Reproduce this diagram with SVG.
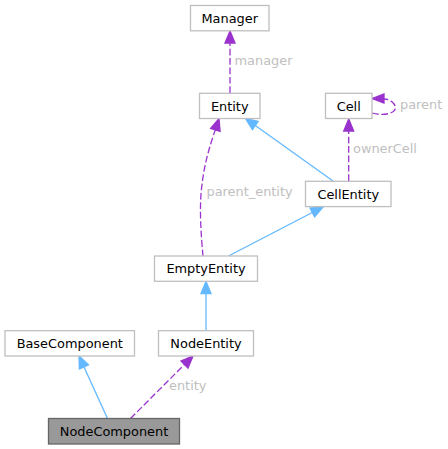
<svg xmlns="http://www.w3.org/2000/svg" width="448" height="449" viewBox="0 0 448 449">
<style>
.node rect{fill:#ffffff;stroke:#bfbfbf;stroke-width:1.3}
.node text{font-family:"DejaVu Sans",sans-serif;font-size:12.9px;fill:#000000;text-anchor:middle}
#n_nodecomponent rect{fill:#999999;stroke:#666666}
.inh{fill:none;stroke:#63b8ff;stroke-width:1.3}
.inh-h{fill:#63b8ff;stroke:#63b8ff;stroke-width:1.3}
.use{fill:none;stroke:#9a32cd;stroke-width:1.3;stroke-dasharray:6.7,2.7}
.use-h{fill:#9a32cd;stroke:#9a32cd;stroke-width:1.3}
.lbl{font-family:"DejaVu Sans",sans-serif;font-size:12.9px;fill:#c0c0c0}
</style>
<rect width="448" height="449" fill="#ffffff"/>
<g id="connectors">
  <!-- Entity -> Manager -->
  <path class="use" d="M230,93 L230,43"/>
  <polygon class="use-h" points="230,31 225,43 235,43"/>
  <text class="lbl" x="234.5" y="65">manager</text>
  <!-- CellEntity -> Cell -->
  <path class="use" d="M348.7,181 L348.7,131"/>
  <polygon class="use-h" points="348.7,119 343.7,131 353.7,131"/>
  <text class="lbl" x="353" y="153">ownerCell</text>
  <!-- Cell self loop -->
  <path class="use" d="M372,113 C386,117 400,112 394,104 C391,100 387,99 384,99"/>
  <polygon class="use-h" points="372,98.5 384,94 384,103"/>
  <text class="lbl" x="400" y="109">parent</text>
  <!-- CellEntity -> Entity -->
  <path class="inh" d="M333,181 L255.3,125.5"/>
  <polygon class="inh-h" points="245.5,118.5 258.2,121.4 252.4,129.6"/>
  <!-- EmptyEntity -> Entity -->
  <path class="use" d="M203,256 C201,235 199,205 202,185 C204,165 210,145 215.3,129.9"/>
  <polygon class="use-h" points="219,118.5 220.1,131.4 210.6,128.4"/>
  <text class="lbl" x="206.5" y="196">parent_entity</text>
  <!-- EmptyEntity -> CellEntity -->
  <path class="inh" d="M228.5,256 L312.3,212.5"/>
  <polygon class="inh-h" points="323,207 314.6,216.9 310,208.1"/>
  <!-- NodeEntity -> EmptyEntity -->
  <path class="inh" d="M206,331 L206,293.5"/>
  <polygon class="inh-h" points="206,281.5 201,293.5 211,293.5"/>
  <!-- NodeComponent -> BaseComponent -->
  <path class="inh" d="M107.5,418.5 L84,366.9"/>
  <polygon class="inh-h" points="79,356 88.5,364.8 79.4,369"/>
  <!-- NodeComponent -> NodeEntity -->
  <path class="use" d="M130.5,418.5 L184.5,364.5"/>
  <polygon class="use-h" points="193,356 188,368 181,361"/>
  <text class="lbl" x="169" y="389.5">entity</text>
</g>
<g id="n_manager" class="node"><rect x="190.5" y="5.5" width="78.5" height="25.3"/><text x="229.75" y="22.7">Manager</text></g>
<g id="n_entity" class="node"><rect x="199.5" y="93.3" width="60.5" height="25.2"/><text x="229.75" y="110.5">Entity</text></g>
<g id="n_cell" class="node"><rect x="325.5" y="93.3" width="46.5" height="25.2"/><text x="348.75" y="110.5">Cell</text></g>
<g id="n_cellentity" class="node"><rect x="305.5" y="181.3" width="85.5" height="25.3"/><text x="348.25" y="198.5">CellEntity</text></g>
<g id="n_emptyentity" class="node"><rect x="154.5" y="256" width="103" height="25.3"/><text x="206" y="273.2">EmptyEntity</text></g>
<g id="n_basecomponent" class="node"><rect x="5" y="330.7" width="129.5" height="25.3"/><text x="69.75" y="347.9">BaseComponent</text></g>
<g id="n_nodeentity" class="node"><rect x="158.5" y="330.7" width="95" height="25.3"/><text x="206" y="347.9">NodeEntity</text></g>
<g id="n_nodecomponent" class="node"><rect x="48.5" y="418.5" width="131" height="25.5"/><text x="114" y="435.8">NodeComponent</text></g>
</svg>
